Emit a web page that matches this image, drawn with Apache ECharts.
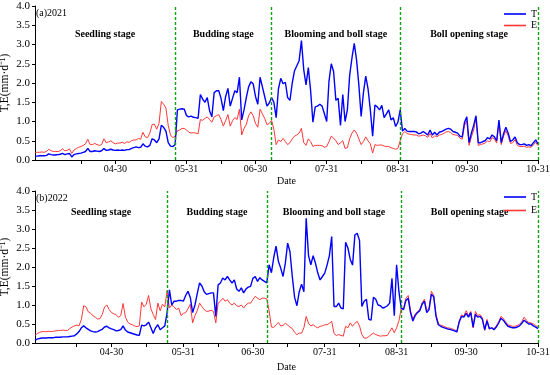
<!DOCTYPE html>
<html><head><meta charset="utf-8">
<script src="https://cdn.jsdelivr.net/npm/echarts@6/dist/echarts.min.js"></script>
<style>html,body{margin:0;padding:0;background:#fff}#c{width:550px;height:375px}</style>
</head><body><div id="c"></div>
<script>
// ---- data (daily values, starting at the given first date) ----
const start2021 = '03-26';
const start2022 = '03-28';
const T2021 = [0.10,0.10,0.11,0.11,0.11,0.12,0.16,0.14,0.13,0.13,
0.14,0.15,0.17,0.14,0.16,0.17,0.08,0.14,0.16,0.17,
0.18,0.20,0.22,0.30,0.22,0.22,0.24,0.23,0.22,0.24,
0.30,0.25,0.26,0.28,0.26,0.25,0.26,0.25,0.26,0.25,
0.27,0.27,0.30,0.32,0.34,0.32,0.33,0.42,0.36,0.34,
0.38,0.55,0.52,0.45,0.55,0.90,0.85,0.75,0.45,0.36,
0.35,0.40,1.30,1.32,1.33,1.32,1.15,1.12,1.14,1.11,
1.10,1.08,1.70,1.58,1.50,1.62,1.28,1.12,1.75,1.80,
1.80,1.60,1.28,1.65,1.86,1.40,1.60,1.80,1.75,2.15,
1.04,1.30,1.62,1.90,2.03,1.98,1.65,1.45,2.15,1.90,
1.65,1.40,1.48,1.62,1.50,1.10,1.85,2.12,1.98,2.02,
1.62,1.55,2.00,2.32,2.45,2.58,3.10,2.35,1.95,2.40,
1.80,0.98,1.38,1.40,1.45,1.40,1.20,1.00,2.05,2.50,
2.30,1.55,1.60,0.90,1.70,1.00,1.30,2.20,2.65,3.03,
2.60,1.95,1.13,1.75,2.18,1.85,1.30,0.62,1.43,1.38,
1.30,1.42,1.10,1.20,1.30,1.04,1.10,0.87,0.98,1.30,
0.75,0.82,0.75,0.74,0.74,0.74,0.73,0.68,0.70,0.74,
0.70,0.65,0.78,0.65,0.72,0.65,0.72,0.74,0.77,0.80,
0.82,0.80,0.74,0.72,0.70,0.62,0.60,0.98,1.12,0.45,
0.70,0.90,1.15,0.45,0.45,0.48,0.50,0.58,0.55,0.65,
0.60,0.50,1.04,0.45,0.68,0.85,0.70,0.48,0.52,0.60,
0.45,0.40,0.40,0.42,0.38,0.40,0.37,0.45,0.52,0.42];
const E2021 = [0.20,0.20,0.20,0.21,0.20,0.22,0.28,0.24,0.22,0.22,
0.22,0.24,0.29,0.24,0.25,0.29,0.17,0.26,0.30,0.33,
0.35,0.38,0.42,0.54,0.40,0.40,0.43,0.40,0.38,0.40,
0.55,0.45,0.47,0.50,0.45,0.42,0.44,0.44,0.46,0.43,
0.47,0.46,0.50,0.52,0.52,0.56,0.54,0.72,0.60,0.58,
0.70,0.92,0.93,0.80,0.95,1.52,1.45,1.35,0.90,0.65,
0.58,0.62,0.76,0.78,0.82,0.82,0.78,0.72,0.70,0.71,
0.70,0.68,1.05,1.03,1.08,1.12,1.05,0.98,1.12,1.15,
1.18,1.05,0.88,1.02,1.18,0.88,1.02,1.10,1.05,1.32,
0.65,0.82,0.92,1.15,1.25,1.15,0.95,0.85,1.32,1.20,
1.08,0.92,0.95,1.03,0.80,0.40,0.52,0.48,0.56,0.48,
0.40,0.45,0.55,0.62,0.65,0.70,0.82,0.45,0.38,0.55,
0.48,0.35,0.38,0.38,0.38,0.37,0.33,0.35,0.48,0.62,
0.57,0.50,0.40,0.45,0.50,0.30,0.32,0.55,0.70,0.78,
0.70,0.55,0.40,0.48,0.60,0.50,0.42,0.18,0.40,0.38,
0.39,0.39,0.36,0.35,0.35,0.32,0.30,0.28,0.30,0.50,
0.68,0.74,0.69,0.67,0.66,0.65,0.65,0.62,0.63,0.65,
0.63,0.59,0.69,0.57,0.63,0.60,0.65,0.66,0.69,0.73,
0.74,0.71,0.66,0.65,0.64,0.57,0.54,0.90,1.02,0.38,
0.60,0.78,1.08,0.38,0.40,0.42,0.44,0.50,0.47,0.58,
0.55,0.44,0.97,0.40,0.62,0.76,0.63,0.43,0.45,0.53,
0.38,0.35,0.35,0.36,0.33,0.34,0.33,0.39,0.46,0.37];
const T2022 = [0.08,0.10,0.12,0.13,0.13,0.13,0.14,0.14,0.14,0.15,
0.15,0.15,0.16,0.16,0.16,0.17,0.18,0.19,0.24,0.30,
0.40,0.45,0.40,0.36,0.32,0.30,0.29,0.30,0.33,0.36,
0.42,0.44,0.40,0.37,0.35,0.32,0.33,0.35,0.45,0.34,
0.29,0.27,0.25,0.23,0.21,0.20,0.47,0.45,0.48,0.55,
0.40,0.25,0.40,0.48,0.35,0.40,0.45,0.80,1.40,1.00,
1.10,1.10,1.12,1.12,1.10,1.25,1.36,1.20,0.80,1.00,
1.30,1.58,1.50,1.35,1.28,1.30,1.32,1.32,0.70,1.53,
1.58,1.71,1.66,1.75,1.66,1.58,1.66,1.42,1.36,1.45,
1.32,1.42,1.47,1.49,1.70,1.75,1.62,1.72,1.66,1.62,
1.58,2.06,1.85,2.25,2.55,2.15,1.97,1.75,2.10,2.63,
2.40,1.75,1.20,0.98,1.35,1.55,1.35,3.28,2.30,2.06,
2.30,2.10,1.84,1.66,1.75,1.84,2.05,2.30,2.80,0.96,
0.96,1.05,0.92,0.90,2.65,2.50,2.20,2.05,2.84,2.89,
2.70,0.96,1.10,1.15,0.62,0.60,1.20,1.15,1.00,0.98,
0.92,0.94,0.98,1.05,1.70,0.72,2.06,1.35,0.92,0.88,
1.12,1.18,0.80,0.58,0.72,0.80,0.85,1.02,1.10,0.80,
0.88,1.28,1.22,0.70,0.48,0.44,0.41,0.39,0.37,0.36,
0.34,0.32,0.29,0.55,0.70,0.68,0.78,0.68,0.80,0.42,
0.75,0.68,0.70,0.62,0.35,0.58,0.38,0.40,0.35,0.42,
0.52,0.65,0.60,0.52,0.44,0.42,0.40,0.40,0.42,0.45,
0.52,0.60,0.55,0.50,0.50,0.45,0.42,0.38];
const E2022 = [0.20,0.25,0.28,0.30,0.30,0.30,0.31,0.30,0.31,0.32,
0.33,0.33,0.34,0.33,0.33,0.38,0.42,0.45,0.47,0.45,
0.62,0.98,0.95,0.82,0.78,0.72,0.68,0.63,0.64,0.75,
0.95,1.00,0.88,0.80,0.77,0.74,0.68,0.72,1.04,0.68,
0.55,0.50,0.48,0.45,0.43,0.45,1.08,0.95,1.02,1.25,
0.90,0.75,0.62,1.05,0.85,1.02,0.95,1.38,0.92,1.00,
0.95,0.88,0.92,0.72,0.78,0.80,0.90,1.02,0.53,0.72,
0.85,1.05,0.96,0.88,0.83,0.84,0.86,0.83,0.53,1.05,
1.10,1.18,1.10,1.14,1.05,1.00,1.05,0.98,0.96,1.00,
0.92,1.00,1.05,1.05,1.14,1.23,1.18,1.14,1.18,1.18,
1.16,0.85,0.42,0.41,0.48,0.54,0.45,0.46,0.52,0.47,
0.42,0.38,0.28,0.22,0.26,0.26,0.40,0.70,0.52,0.45,
0.48,0.43,0.40,0.44,0.45,0.48,0.48,0.52,0.57,0.25,
0.20,0.22,0.20,0.18,0.44,0.40,0.53,0.44,0.52,0.57,
0.45,0.22,0.13,0.13,0.17,0.22,0.26,0.22,0.20,0.18,
0.19,0.19,0.20,0.30,0.40,0.27,0.40,0.58,0.92,0.90,
1.18,1.25,0.85,0.62,0.76,0.83,0.88,1.06,1.15,0.85,
0.92,1.36,1.26,0.75,0.52,0.47,0.45,0.42,0.40,0.39,
0.37,0.35,0.31,0.58,0.74,0.71,0.85,0.72,0.83,0.40,
0.83,0.72,0.75,0.66,0.33,0.62,0.36,0.40,0.38,0.45,
0.56,0.70,0.65,0.56,0.48,0.46,0.44,0.44,0.46,0.49,
0.56,0.68,0.60,0.54,0.53,0.50,0.46,0.42];
const tickLabels = ['04-30','05-31','06-30','07-31','08-31','09-30','10-31'];
const minorTickDates = ['04-15','05-15','06-15','07-15','08-15','09-15','10-15'];
const stageNames = ['Seedling stage','Budding stage','Blooming and boll stage','Boll opening stage'];
const stageEnds2021 = ['05-26','07-07','09-01','10-31'];
const stageEnds2022 = ['05-24','07-06','09-02','10-31'];
const panelTitles = ['(a)2021','(b)2022'];
const seriesNames = ['T','E'];

// ---- helpers ----
const DAY = 86400000;
const FONT = 'Liberation Serif';
const BLUE = '#0000ff', RED = '#ff3838', GREEN = '#14a014';
function ts(year, md){ const p = md.split('-').map(Number); return Date.UTC(year, p[0]-1, p[1]); }
function fmt(v){ const d = new Date(v); return String(d.getUTCMonth()+1).padStart(2,'0')+'-'+String(d.getUTCDate()).padStart(2,'0'); }
function toSeries(year, startMD, arr){ const s = ts(year,startMD); return arr.map((v,i)=>[s+i*DAY, v]); }

const panels = [
  {year:2021, start:start2021, T:T2021, E:E2021, ends:stageEnds2021, top:6, height:154, nameGap:16, stageDist:23, legTop:9, legGap:1.5},
  {year:2022, start:start2022, T:T2022, E:E2022, ends:stageEnds2022, top:191, height:152, nameGap:19, stageDist:16, legTop:192, legGap:3.5}
];

const grid=[], xAxis=[], yAxis=[], series=[], legend=[], title=[];
panels.forEach((p,i)=>{
  grid.push({left:35, right:12, top:p.top, height:p.height, containLabel:false, outerBoundsMode:'none'});
  const majors = tickLabels.map(m=>ts(p.year,m));
  const minors = minorTickDates.map(m=>ts(p.year,m));
  xAxis.push({type:'value', gridIndex:i, min:ts(p.year,p.start), max:ts(p.year,'10-31'),
    axisLine:{lineStyle:{color:'#000',width:1}},
    axisTick:{show:true, customValues:majors.concat(minors).sort((a,b)=>a-b), length:4, lineStyle:{color:'#000'}},
    axisLabel:{customValues:majors, formatter:fmt, fontFamily:FONT, fontSize:10, color:'#000', margin:4},
    splitLine:{show:false},
    name:'Date', nameLocation:'middle', nameGap:p.nameGap, nameMoveOverlap:false,
    nameTextStyle:{fontFamily:FONT, fontSize:10, color:'#000'}});
  yAxis.push({type:'value', gridIndex:i, min:0, max:4, interval:0.5,
    axisLine:{show:true, lineStyle:{color:'#000',width:1}},
    axisTick:{show:true, length:3, lineStyle:{color:'#000'}},
    axisLabel:{formatter:v=>v.toFixed(1), fontFamily:FONT, fontSize:11, color:'#000', margin:5},
    splitLine:{show:false},
    name:'T,E(mm·d\u207B\u00B9)', nameLocation:'middle', nameGap:24, nameRotate:90, nameMoveOverlap:false,
    nameTextStyle:{fontFamily:FONT, fontSize:11.5, color:'#000'}});
  const s0 = ts(p.year,p.start);
  const bounds = [s0].concat(p.ends.map(d=>ts(p.year,d)));
  series.push({name:seriesNames[0], type:'line', xAxisIndex:i, yAxisIndex:i, data:toSeries(p.year,p.start,p.T),
    symbol:'none', showSymbol:false, z:3, lineStyle:{color:BLUE, width:1.4}, itemStyle:{color:BLUE},
    markLine:{silent:true, symbol:['none','none'], label:{show:false}, z:5,
      lineStyle:{color:GREEN, type:[3,2], width:1.4, opacity:1},
      data:p.ends.map(d=>({xAxis:ts(p.year,d)}))}});
  series.push({name:seriesNames[1], type:'line', xAxisIndex:i, yAxisIndex:i, data:toSeries(p.year,p.start,p.E),
    symbol:'none', showSymbol:false, z:2, lineStyle:{color:RED, width:1}, itemStyle:{color:RED},
    markArea:{silent:true, itemStyle:{color:'rgba(0,0,0,0)'},
      label:{show:true, position:'insideTop', distance:p.stageDist, fontFamily:FONT, fontWeight:'bold', fontSize:10, color:'#000'},
      data:stageNames.map((n,k)=>[{name:n, xAxis:bounds[k]},{xAxis:bounds[k+1]}])}});
  legend.push({data:[{name:seriesNames[0], itemStyle:{color:BLUE}},{name:seriesNames[1], itemStyle:{color:RED}}],
    icon:'rect', orient:'vertical', left:504, top:p.legTop, align:'left', itemWidth:22, itemHeight:1.6, itemGap:p.legGap,
    padding:0, textStyle:{fontFamily:FONT, fontSize:10, color:'#000'}});
  title.push({text:panelTitles[i], left:36, top:p.top+2, padding:0,
    textStyle:{fontFamily:FONT, fontSize:10, fontWeight:'normal', color:'#000'}});
});

const chart = echarts.init(document.getElementById('c'), null, {renderer:'canvas'});
chart.setOption({animation:false, backgroundColor:'#fff', title, legend, grid, xAxis, yAxis, series});
</script></body></html>
